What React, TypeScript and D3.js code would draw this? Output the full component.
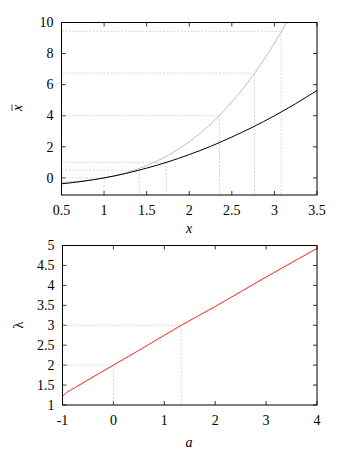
import React, { useEffect, useRef } from 'react'
import * as d3 from 'd3'

// top panel: x vs x-bar (two curves)
const topX = [0.5, 0.75, 1, 1.25, 1.5, 1.75, 2, 2.25, 2.5, 2.75, 3, 3.25, 3.5]
const blackY = [-0.38, -0.22, 0, 0.28, 0.63, 1.03, 1.5, 2.03, 2.63, 3.28, 4.0, 4.78, 5.63]
const grayY = [-0.29, -0.19, 0, 0.32, 0.79, 1.45, 2.33, 3.46, 4.88, 6.6, 8.67, 11.1, 13.96]
// guide points (dotted drop lines)
const topGuideX = [1, 1.414, 1.732, 2.355, 2.766, 3.079]
const topGuideY = [0, 0.5, 1, 4.0, 6.74, 9.43]
const topXTicks = [0.5, 1, 1.5, 2, 2.5, 3, 3.5]
const topYTicks = [0, 2, 4, 6, 8, 10]

// bottom panel: a vs lambda
const aVals = [-1, -0.95, -0.9, -0.75, -0.5, 0, 0.5, 1, 1.333, 2, 2.5, 3, 3.5, 4]
const lambdaVals = [1.21, 1.28, 1.33, 1.44, 1.63, 2.0, 2.37, 2.75, 3.0, 3.47, 3.84, 4.21, 4.57, 4.93]
const botGuideX = [0, 1.333]
const botGuideY = [2, 3]
const botXTicks = [-1, 0, 1, 2, 3, 4]
const botYTicks = [1, 1.5, 2, 2.5, 3, 3.5, 4, 4.5, 5]

const FONT = '"Liberation Serif", "Times New Roman", serif'
const FS = 14
const GUIDE = '#c4c4c4'

export default function App() {
  const svgRef = useRef<SVGSVGElement>(null)

  useEffect(() => {
    const svg = d3.select(svgRef.current)
    svg.selectAll('*').remove()

    const panel = (opts: any) => {
      const { left, right, top, bottom, xDomain, yDomain, xTicks, yTicks, id } = opts
      const x = d3.scaleLinear().domain(xDomain).range([left, right])
      const y = d3.scaleLinear().domain(yDomain).range([bottom, top])
      const g = svg.append('g')

      g.append('clipPath').attr('id', id)
        .append('rect').attr('x', left).attr('y', top)
        .attr('width', right - left).attr('height', bottom - top)

      // ticks, mirrored on all four sides, pointing inwards
      const tl = 4
      xTicks.forEach((t: number) => {
        g.append('line').attr('x1', x(t)).attr('x2', x(t)).attr('y1', bottom).attr('y2', bottom - tl)
          .attr('stroke', '#000').attr('stroke-width', 0.8)
        g.append('line').attr('x1', x(t)).attr('x2', x(t)).attr('y1', top).attr('y2', top + tl)
          .attr('stroke', '#000').attr('stroke-width', 0.8)
        g.append('text').attr('x', x(t)).attr('y', bottom + 20)
          .attr('text-anchor', 'middle').attr('font-family', FONT).attr('font-size', FS)
          .text(String(t))
      })
      yTicks.forEach((t: number) => {
        g.append('line').attr('x1', left).attr('x2', left + tl).attr('y1', y(t)).attr('y2', y(t))
          .attr('stroke', '#000').attr('stroke-width', 0.8)
        g.append('line').attr('x1', right).attr('x2', right - tl).attr('y1', y(t)).attr('y2', y(t))
          .attr('stroke', '#000').attr('stroke-width', 0.8)
        g.append('text').attr('x', left - 8).attr('y', y(t) + 4.7)
          .attr('text-anchor', 'end').attr('font-family', FONT).attr('font-size', FS)
          .text(String(t))
      })
      return { x, y, g }
    }

    // ---------- top panel ----------
    const T = panel({
      id: 'clipTop', left: 61.5, right: 317, top: 22.5, bottom: 195,
      xDomain: [0.5, 3.5], yDomain: [-1.1, 10],
      xTicks: topXTicks, yTicks: topYTicks,
    })
    topGuideX.forEach((gx, i) => {
      const px = T.x(gx), py = T.y(topGuideY[i])
      T.g.append('line').attr('x1', T.x(0.5)).attr('x2', px).attr('y1', py).attr('y2', py)
        .attr('stroke', GUIDE).attr('stroke-width', 0.7).attr('stroke-dasharray', '2,1.5')
      T.g.append('line').attr('x1', px).attr('x2', px).attr('y1', py).attr('y2', T.y(-1.1))
        .attr('stroke', GUIDE).attr('stroke-width', 0.7).attr('stroke-dasharray', '2,1.5')
    })
    const lineTop = (ys: number[]) => d3.line<number>()
      .x((_, i) => T.x(topX[i])).y(d => T.y(d)).curve(d3.curveMonotoneX)(ys)
    T.g.append('path').attr('d', lineTop(grayY)).attr('fill', 'none')
      .attr('stroke', '#bdbdbd').attr('stroke-width', 1).attr('clip-path', 'url(#clipTop)')
    T.g.append('path').attr('d', lineTop(blackY)).attr('fill', 'none')
      .attr('stroke', '#000').attr('stroke-width', 1).attr('clip-path', 'url(#clipTop)')
    T.g.append('rect').attr('x', 61.5).attr('y', 22.5).attr('width', 317 - 61.5).attr('height', 195 - 22.5)
      .attr('fill', 'none').attr('stroke', '#000').attr('stroke-width', 1)
    T.g.append('text').attr('x', 189).attr('y', 233).attr('text-anchor', 'middle')
      .attr('font-family', FONT).attr('font-style', 'italic').attr('font-size', FS).text('x')
    T.g.append('text').attr('transform', 'translate(22,108) rotate(-90)')
      .attr('text-anchor', 'middle').attr('font-family', FONT).attr('font-style', 'italic')
      .attr('font-size', FS).text('x')
    // overbar of the rotated x-bar label
    T.g.append('line').attr('x1', 12).attr('x2', 12).attr('y1', 104.5).attr('y2', 111)
      .attr('stroke', '#000').attr('stroke-width', 0.7)

    // ---------- bottom panel ----------
    const B = panel({
      id: 'clipBot', left: 62.5, right: 317, top: 245.5, bottom: 405,
      xDomain: [-1, 4], yDomain: [1, 5],
      xTicks: botXTicks, yTicks: botYTicks,
    })
    botGuideX.forEach((gx, i) => {
      const px = B.x(gx), py = B.y(botGuideY[i])
      B.g.append('line').attr('x1', B.x(-1)).attr('x2', px).attr('y1', py).attr('y2', py)
        .attr('stroke', GUIDE).attr('stroke-width', 0.7).attr('stroke-dasharray', '2,1.5')
      B.g.append('line').attr('x1', px).attr('x2', px).attr('y1', py).attr('y2', B.y(1))
        .attr('stroke', GUIDE).attr('stroke-width', 0.7).attr('stroke-dasharray', '2,1.5')
    })
    const lineBot = d3.line<number>()
      .x((_, i) => B.x(aVals[i])).y(d => B.y(d)).curve(d3.curveMonotoneX)
    B.g.append('path').attr('d', lineBot(lambdaVals)).attr('fill', 'none')
      .attr('stroke', '#ff2020').attr('stroke-width', 1).attr('clip-path', 'url(#clipBot)')
    B.g.append('rect').attr('x', 62.5).attr('y', 245.5).attr('width', 317 - 62.5).attr('height', 405 - 245.5)
      .attr('fill', 'none').attr('stroke', '#000').attr('stroke-width', 1)
    B.g.append('text').attr('x', 189).attr('y', 447).attr('text-anchor', 'middle')
      .attr('font-family', FONT).attr('font-style', 'italic').attr('font-size', FS).text('a')
    B.g.append('text').attr('transform', 'translate(23,325) rotate(-90)')
      .attr('text-anchor', 'middle').attr('font-family', FONT).attr('font-size', 15).text('λ')
  }, [])

  return (
    <svg ref={svgRef} width={342} height={452}
      style={{ position: 'absolute', left: 0, top: 0, background: '#fff' }} />
  )
}
